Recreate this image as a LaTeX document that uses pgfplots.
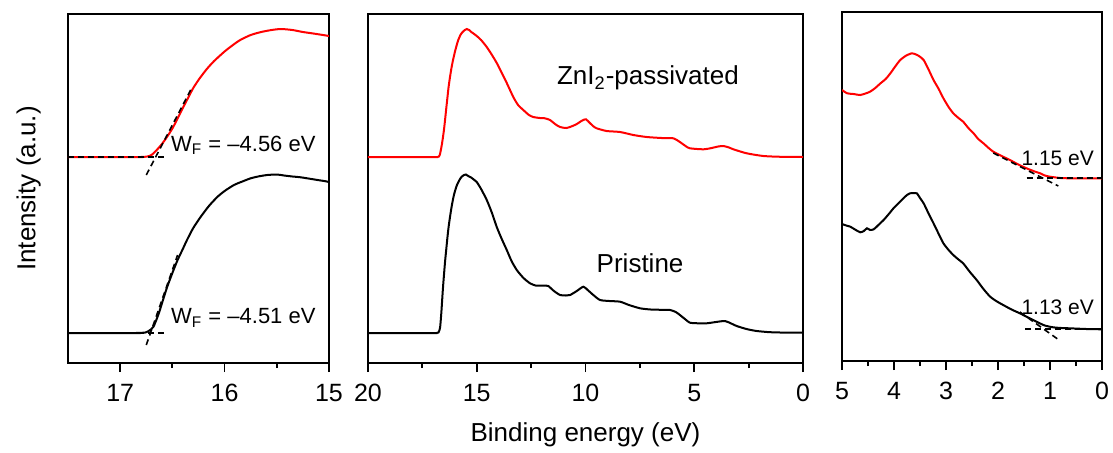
\documentclass[border=0pt]{standalone}
\usepackage{pgfplots}
\pgfplotsset{compat=1.18}
\usepackage{fontspec}
\setmainfont{Liberation Sans}

% secondary-electron cutoff + valence band, shared by panels 1 and 2
\pgfplotstableread{
E y
20 206
17.0 206
16.8 206
16.74 206.5
16.70 208
16.65 213
16.60 219
16.55 226.3
16.50 234.5
16.45 244.5
16.40 255
16.35 265
16.30 275
16.24 284.5
16.17 294
16.10 302
16.00 311.5
15.92 318
15.85 323
15.75 328
15.65 331
15.55 333
15.46 334
15.35 333
15.25 331
15.15 329.5
15.0 327
14.8 323
14.54 316
14.3 308
14.08 300
13.85 290
13.62 280
13.32 266
13.1 258
12.86 253
12.6 248
12.40 246
12.1 245
11.94 245
11.75 244
11.63 243
11.4 239
11.17 236
10.87 235
10.6 237
10.40 239
10.15 242.5
9.98 243.7
9.8 240
9.6 236
9.49 234.7
9.03 232
8.41 231
7.80 228
7.19 226
6.5 225
5.96 224.7
5.66 221
5.4 217
5.2 214.7
4.58 213.7
4.2 215
3.9 216.5
3.66 217
3.4 215.5
3.2 213.7
2.59 209.7
1.82 207
1.0 206.2
0 206
}\zntab

\pgfplotstableread{
E y
20 30
17.0 30
16.85 30
16.76 30.5
16.72 32.5
16.68 36.5
16.63 49.7
16.59 63
16.55 76
16.50 90
16.45 103
16.40 114
16.36 123
16.30 135
16.23 146
16.15 157
16.07 166
16.0 172
15.91 178
15.83 181.5
15.75 184.7
15.67 186.7
15.59 188
15.5 188.5
15.43 187.5
15.35 186.5
15.27 185.7
15.11 183
15.0 181
14.8 174
14.54 163
14.3 150
14.08 136
13.85 124
13.62 113
13.4 102
13.16 93
12.85 85
12.55 79.7
12.3 77.5
12.09 77.3
11.85 77.5
11.71 77
11.45 72
11.17 68
10.9 67.5
10.71 68
10.4 72
10.10 76.3
9.9 73
9.64 68
9.33 63
8.9 62
8.41 61.3
8.0 58
7.49 54.7
7.0 53.5
6.5 53.2
6.11 53
5.85 51
5.66 48
5.4 43.5
5.2 40.3
4.8 39.7
4.43 39.7
4.0 41
3.59 42
3.3 39.5
3.05 37
2.6 34
2.13 32
1.5 30.8
0.6 30.3
0 30.3
}\pristab

% valence band onset region
\pgfplotstableread{
E y
5.0 271
4.9 267.7
4.78 267
4.65 266
4.55 267.5
4.46 269.3
4.36 273
4.26 277.7
4.16 282
4.07 287.7
3.97 295
3.88 301
3.78 305
3.70 307
3.66 307.7
3.60 307
3.52 305
3.43 301
3.34 292
3.24 281
3.14 272
3.05 262.7
2.95 254
2.86 247.7
2.76 243
2.67 239.3
2.57 233
2.47 227.7
2.38 222
2.28 217.7
2.18 213
2.09 209.3
1.93 205
1.77 201
1.61 196.5
1.45 192.7
1.32 190
1.19 187.7
1.10 185.5
1.0 184.3
0.8 183
0.62 182.7
0.3 182.7
0 182.7
}\znvb

\pgfplotstableread{
E y
5.0 137
4.92 135.5
4.84 134.3
4.75 131.5
4.65 128.7
4.58 130
4.52 132.7
4.46 131
4.39 131.7
4.30 136
4.20 141
4.10 147
4.01 152.7
3.91 158
3.82 162.7
3.75 166
3.69 167.7
3.62 168
3.56 167.7
3.50 163
3.43 157.7
3.34 148
3.24 137.7
3.14 127
3.05 117.7
2.95 111
2.86 106
2.76 101.5
2.67 97.7
2.54 89
2.41 81
2.28 72
2.15 64.3
2.02 59.5
1.90 56
1.74 51.5
1.58 47.7
1.42 43.5
1.26 39.3
1.10 35.5
0.94 33.7
0.78 33
0.62 32.7
0.3 32
0 31.7
}\prisvb

\pgfplotsset{
  panel/.style={
    scale only axis, height=174.5pt, anchor=south west,
    ymin=0, ymax=349, ytick=\empty, x dir=reverse,
    xtick pos=left, tick align=outside,
    major tick length=4.5pt, minor tick length=2.5pt,
    axis line style={line width=1pt},
    every tick/.append style={line width=0.9pt, black},
    tick label style={font=\fontsize{12.5}{14}\selectfont, yshift=-2.5pt},
    /pgf/number format/assume math mode=true,
    label style={font=\fontsize{13}{15}\selectfont},
  },
  spec/.style={line width=1pt, smooth, tension=0.4},
  tang/.style={black, line width=0.8pt, dash pattern=on 3pt off 2pt},
}

\begin{document}
\begin{tikzpicture}
\path[use as bounding box] (0,0) rectangle (556.5pt,226pt);

% panel 1: cutoff
\begin{axis}[panel, at={(34pt,44.5pt)}, width=130.5pt,
    xmin=15, xmax=17.5, xtick={15,16,17}, minor xtick={15.5,16.5},
    ylabel={Intensity (a.u.)},
    ylabel style={at={(axis description cs:-0.151,0.5)}, anchor=center}]
\addplot[spec, red] table[x=E, y=y] {\zntab};
\addplot[spec, black] table[x=E, y=y] {\pristab};
\addplot[tang] coordinates {(17.5,206) (16.58,206)};
\addplot[tang] coordinates {(16.75,188) (16.31,276)};
\addplot[tang] coordinates {(17.5,30) (16.57,30)};
\addplot[tang] coordinates {(16.75,18) (16.45,108)};
\node[font=\fontsize{11}{13}\selectfont] at (axis cs:15.82,218) {W\textsubscript{F} = –4.56 eV};
\node[font=\fontsize{11}{13}\selectfont] at (axis cs:15.82,45) {W\textsubscript{F} = –4.51 eV};
\end{axis}

% panel 2: full spectrum
\begin{axis}[panel, at={(184pt,44.5pt)}, width=217.5pt,
    xmin=0, xmax=20, xtick={0,5,10,15,20}, minor xtick={2.5,7.5,12.5,17.5},
    xlabel={Binding energy (eV)},
    xlabel style={at={(axis description cs:0.5,-0.206)}, anchor=center}]
\addplot[spec, red] table[x=E, y=y] {\zntab};
\addplot[spec, black] table[x=E, y=y] {\pristab};
\node[font=\fontsize{13}{15}\selectfont] at (axis cs:7.13,285) {ZnI\textsubscript{2}-passivated};
\node[font=\fontsize{13}{15}\selectfont] at (axis cs:7.49,100) {Pristine};
\end{axis}

% panel 3: valence band edge
\begin{axis}[panel, at={(421pt,45.5pt)}, width=130pt,
    xmin=0, xmax=5, xtick={0,1,2,3,4,5}, minor xtick={0.5,1.5,2.5,3.5,4.5}]
\addplot[spec, red] table[x=E, y=y] {\znvb};
\addplot[spec, black] table[x=E, y=y] {\prisvb};
\addplot[tang] coordinates {(1.45,183) (0,183)};
\addplot[tang] coordinates {(2.09,208) (0.84,175)};
\addplot[tang] coordinates {(1.48,32) (0,32)};
\addplot[tang] coordinates {(1.58,49) (0.80,20)};
\node[font=\fontsize{10.5}{13}\selectfont, anchor=east] at (axis cs:0.02,203) {1.15 eV};
\node[font=\fontsize{10.5}{13}\selectfont, anchor=east] at (axis cs:0.02,54) {1.13 eV};
\end{axis}
\end{tikzpicture}
\end{document}
